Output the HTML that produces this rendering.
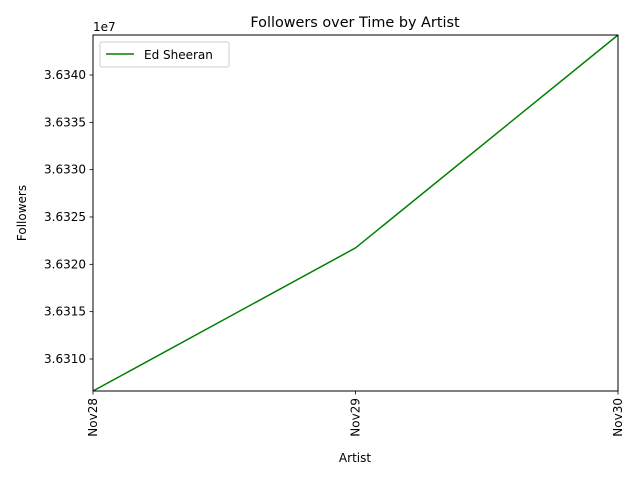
<!DOCTYPE html>
<html><head><meta charset="utf-8"><style>
body{margin:0;background:#fff;font-family:"Liberation Sans","DejaVu Sans",sans-serif}
text{font-family:"DejaVu Sans","Liberation Sans",sans-serif}
</style></head><body>
<svg id="chart" width="640" height="480" xmlns="http://www.w3.org/2000/svg">
<rect width="640" height="480" fill="#fff"/>
</svg>
<script>
const categories = ["Nov28","Nov29","Nov30"];
const followers = [36306617, 36321734, 36344228];
const yTicks = [36310000,36315000,36320000,36325000,36330000,36335000,36340000];
const yTickLabels = ["3.6310","3.6315","3.6320","3.6325","3.6330","3.6335","3.6340"];

const svg = document.getElementById('chart');
const NS = "http://www.w3.org/2000/svg";
const L=93, R=618, T=35, B=391;
const yMin = Math.min(...followers), yMax = Math.max(...followers);
const x = i => L + (R-L)*i/(categories.length-1);
const y = v => B - (B-T)*(v-yMin)/(yMax-yMin);
function mk(tag, attrs, txt){const e=document.createElementNS(NS,tag);for(const k in attrs)e.setAttribute(k,attrs[k]);if(txt!==undefined)e.textContent=txt;svg.appendChild(e);return e;}

// series line
const pts = followers.map((v,i)=>x(i)+","+y(v)).join(" ");
const line = mk('polyline',{points:pts,fill:'none',stroke:'#008000','stroke-width':1.5});



// axes frame
const frame = mk('rect',{x:L,y:T,width:R-L,height:B-T,fill:'none',stroke:'#000','stroke-width':1});



// y ticks
yTicks.forEach((v,i)=>{
  const yy=y(v);
  if(yy<T-0.5||yy>B+0.5) return;
  const t=mk('line',{x1:L-3.5,x2:L,y1:yy,y2:yy,stroke:'#000','stroke-width':0.8});
  
  
  const lb=mk('text',{x:L-7,y:yy+4,'font-size':12,'text-anchor':'end',fill:'#000'},yTickLabels[i]);
  
  
});
// x ticks
categories.forEach((c,i)=>{
  const xx=x(i);
  const t=mk('line',{x1:xx,x2:xx,y1:B,y2:B+3.5,stroke:'#000','stroke-width':0.8});
  
  
  const lb=mk('text',{x:xx+4,y:B+7,'font-size':12,'text-anchor':'end',fill:'#000',transform:`rotate(-90 ${xx+4} ${B+7})`},c);
  
  
});
</script>
<svg style="position:absolute;left:0;top:0" width="640" height="480" xmlns="http://www.w3.org/2000/svg">
<text x="355" y="27" font-size="14.4" text-anchor="middle">Followers over Time by Artist</text>
<text x="93" y="31" font-size="12">1e7</text>
<text x="355" y="462" font-size="12" text-anchor="middle">Artist</text>
<text x="26" y="213" font-size="12" text-anchor="middle" transform="rotate(-90 26 213)">Followers</text>
<g>
<rect x="100" y="42" width="129" height="25" rx="2" fill="#fff" stroke="#ccc"/>
<line x1="106" x2="134" y1="54" y2="54" stroke="#008000" stroke-width="1.5"/>
<text x="144" y="59" font-size="12">Ed Sheeran</text>
</g>
</svg>
</body></html>
